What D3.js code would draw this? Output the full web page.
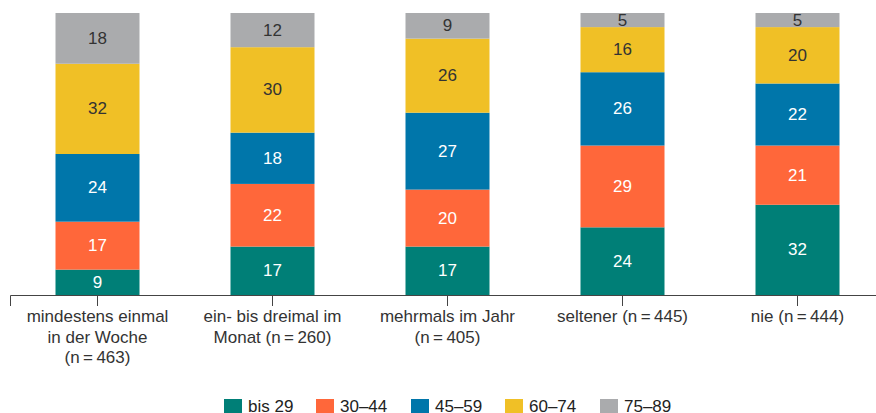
<!DOCTYPE html>
<html><head><meta charset="utf-8">
<script src="https://cdn.jsdelivr.net/npm/d3@7"></script>
<style>body{margin:0;background:#fff}svg{display:block;font-family:"Liberation Sans",Arial,sans-serif}</style>
</head><body>
<svg id="c" width="876" height="413"></svg>
<script>
const categories = ["mindestens einmal\nin der Woche\n(n\u2009=\u2009463)", "ein- bis dreimal im\nMonat (n\u2009=\u2009260)", "mehrmals im Jahr\n(n\u2009=\u2009405)", "seltener (n\u2009=\u2009445)", "nie (n\u2009=\u2009444)"];
const seriesNames = ["bis 29", "30\u201344", "45\u201359", "60\u201374", "75\u201389"];
const bis29 = [9, 17, 17, 24, 32];
const s30_44 = [17, 22, 20, 29, 21];
const s45_59 = [24, 18, 27, 26, 22];
const s60_74 = [32, 30, 26, 16, 20];
const s75_89 = [18, 12, 9, 5, 5];
const colors = ["#007f77", "#ff673a", "#0076aa", "#f0c026", "#aaabad"];
const labelColors = ["#ffffff", "#ffffff", "#ffffff", "#333333", "#333333"];

const seriesVals = [bis29, s30_44, s45_59, s60_74, s75_89];
const rows = categories.map((c, i) => {
  const r = {cat: c};
  seriesNames.forEach((s, j) => r[s] = seriesVals[j][i]);
  return r;
});
const stacked = d3.stack().keys(seriesNames).offset(d3.stackOffsetExpand)(rows);

const svg = d3.select("#c");
const x = d3.scaleBand().domain(categories).range([10, 885]).paddingInner(0.52).paddingOuter(0.26);
const y = d3.scaleLinear().domain([0, 1]).range([295, 13]);

const layers = svg.append("g").selectAll("g").data(stacked).join("g")
  .attr("fill", (d, i) => colors[i]);
layers.selectAll("rect").data(d => d).join("rect")
  .attr("x", d => x(d.data.cat))
  .attr("width", x.bandwidth())
  .attr("y", d => y(d[1]))
  .attr("height", d => y(d[0]) - y(d[1]));

const lab = svg.append("g").selectAll("g").data(stacked).join("g");
lab.each(function(layer, i) {
  d3.select(this).selectAll("text").data(layer).join("text")
    .attr("x", d => x(d.data.cat) + x.bandwidth() / 2)
    .attr("y", d => (y(d[0]) + y(d[1])) / 2)
    .attr("text-anchor", "middle")
    .attr("dominant-baseline", "central")
    .attr("font-size", 17)
    .attr("fill", labelColors[i])
    .text(d => d.data[layer.key]);
});

const axis = svg.append("g").attr("transform", "translate(0,295)")
  .call(d3.axisBottom(x).tickSizeOuter(0).tickSize(11).tickFormat(""));
axis.select(".domain").attr("stroke", "#444").attr("stroke-width", 1);
axis.selectAll(".tick line").attr("stroke", "#444");

const tl = svg.append("g").selectAll("text").data(categories).join("text")
  .attr("text-anchor", "middle")
  .attr("font-size", 17)
  .attr("fill", "#333");
tl.each(function(c) {
  const lines = c.split("\n");
  const cx = x(c) + x.bandwidth() / 2;
  d3.select(this).selectAll("tspan").data(lines).join("tspan")
    .attr("x", cx)
    .attr("y", (d, k) => 322 + k * 20.5)
    .text(d => d);
});

const legendX = [224, 316, 411, 505, 600];
const lg = svg.append("g").selectAll("g").data(seriesNames).join("g")
  .attr("transform", (d, i) => `translate(${legendX[i]},399)`);
lg.append("rect").attr("width", 18).attr("height", 18).attr("fill", (d, i) => colors[i]);
lg.append("text").attr("x", 24).attr("y", 13).attr("font-size", 17).attr("fill", "#222").text(d => d);
</script>
</body></html>
